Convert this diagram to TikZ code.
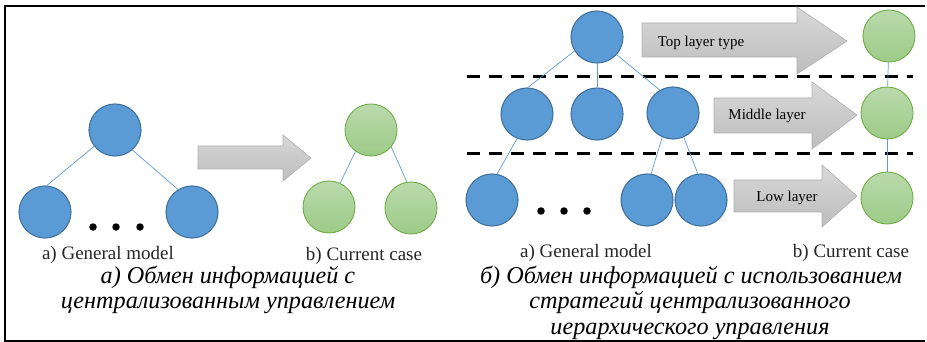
\documentclass[tikz,border=0pt]{standalone}
\usepackage{fontspec}
\setmainfont{Liberation Serif}
\begin{document}
\begin{tikzpicture}[x=1pt,y=-1pt,
  bluen/.style={circle,minimum size=52pt,inner sep=0pt,fill=bluefill,draw=blueedge,line width=1.1pt},
  greenn/.style={circle,minimum size=52pt,inner sep=0pt,top color=greentop,bottom color=greenbot,draw=greenedge,line width=0.9pt},
  link/.style={draw=linkblue,line width=0.7pt},
  fatarrow/.style={top color=arrtop,bottom color=arrbot,draw=arredge,line width=0.6pt},
  dotn/.style={circle,fill=black,minimum size=7.5pt,inner sep=0pt},
  caption/.style={anchor=base,font=\fontsize{19}{19}\selectfont,text=txtgray},
  arrlabel/.style={anchor=base,font=\fontsize{15}{15}\selectfont,text=black},
  rus/.style={anchor=base,font=\fontsize{24.2}{24.2}\selectfont\itshape,text=black},
  layerline/.style={draw=black,line width=3pt,dash pattern=on 13pt off 9pt}
]
\definecolor{bluefill}{HTML}{5B9BD5}
\definecolor{blueedge}{HTML}{41719C}
\definecolor{greentop}{HTML}{BADAAC}
\definecolor{greenbot}{HTML}{9DCB88}
\definecolor{greenedge}{HTML}{70AD47}
\definecolor{linkblue}{HTML}{5B9BD5}
\definecolor{arrtop}{HTML}{D8D8D8}
\definecolor{arrbot}{HTML}{BDBDBD}
\definecolor{arredge}{HTML}{AFAFAF}
\definecolor{txtgray}{HTML}{262626}
\useasboundingbox (0,0) rectangle (927,342);
% frame
\draw[line width=2pt] (925,6) -- (5,6) -- (5,340.5) -- (925,340.5);

% ---------- left panel ----------
\node[bluen] (lt) at (115,130) {};
\node[bluen] (lbl) at (45,212) {};
\node[bluen] (lbr) at (192,212) {};
\draw[link] (lt.218) -- (lbl.86);
\draw[link] (lt.311) -- (lbr.122);
\node[dotn] (ld1) at (93,227) {};
\node[dotn] (ld2) at (116,227) {};
\node[dotn] (ld3) at (140,227) {};
\draw[fatarrow] (198,146) -- (283,146) -- (283,135) -- (311,158) -- (283,181) -- (283,169) -- (198,169) -- cycle;
\node[greenn] (gt) at (371,130) {};
\node[greenn] (gbl) at (329,207) {};
\node[greenn] (gbr) at (411,208) {};
\draw[link] (gt.234) -- (gbl.65);
\draw[link] (gt.320) -- (gbr.99);
\node[caption] (lcapa) at (108,259) {a) General model};
\node[caption] (lcapb) at (364,260) {b) Current case};
\node[rus] (lr1) at (228,283) {а) Обмен информацией с};
\node[rus] (lr2) at (228,308) {централизованным управлением};

% ---------- right panel ----------
\draw[layerline] (467,77) -- (913,77);
\draw[layerline] (467,154) -- (913,154);
\node[bluen] (rt) at (597,37) {};
\node[bluen] (rm1) at (527,114) {};
\node[bluen] (rm2) at (597,114) {};
\node[bluen] (rm3) at (673,113) {};
\node[bluen] (rb1) at (492,200) {};
\node[bluen] (rb2) at (647,200) {};
\node[bluen] (rb3) at (701,200) {};
\draw[link] (rt.212) -- (rm1.88);
\draw[link] (rt.south) -- (rm2.north);
\draw[link] (rt.318) -- (rm3.120);
\draw[link] (rm1.248) -- (rb1.79);
\draw[link] (rm3.246) -- (rb2.81);
\draw[link] (rm3.294) -- (rb3.97);
\node[dotn] (rd1) at (541,211) {};
\node[dotn] (rd2) at (564,211) {};
\node[dotn] (rd3) at (587,211) {};
\draw[fatarrow] (642,23) -- (797,23) -- (797,7) -- (847,41) -- (797,74) -- (797,57) -- (642,57) -- cycle;
\draw[fatarrow] (714,98) -- (812,98) -- (812,82) -- (857,115) -- (812,149) -- (812,133) -- (714,133) -- cycle;
\draw[fatarrow] (734,180) -- (822,180) -- (822,165) -- (857,196) -- (822,227) -- (822,212) -- (734,212) -- cycle;
\node[arrlabel] (atop) at (701,47) {Top layer type};
\node[arrlabel] (amid) at (767,120) {Middle layer};
\node[arrlabel] (alow) at (787,202) {Low layer};
\node[greenn] (rg1) at (889,36) {};
\node[greenn] (rg2) at (887,113) {};
\node[greenn] (rg3) at (887,198) {};
\draw[link] (rg1) -- (rg2);
\draw[link] (rg2) -- (rg3);
\node[caption] (rcapa) at (586,258) {a) General model};
\node[caption] (rcapb) at (851,258) {b) Current case};
\node[rus] (rr1) at (691,283) {б) Обмен информацией с использованием};
\node[rus] (rr2) at (690,308) {стратегий централизованного};
\node[rus] (rr3) at (690,334) {иерархического управления};
\end{tikzpicture}
\end{document}
